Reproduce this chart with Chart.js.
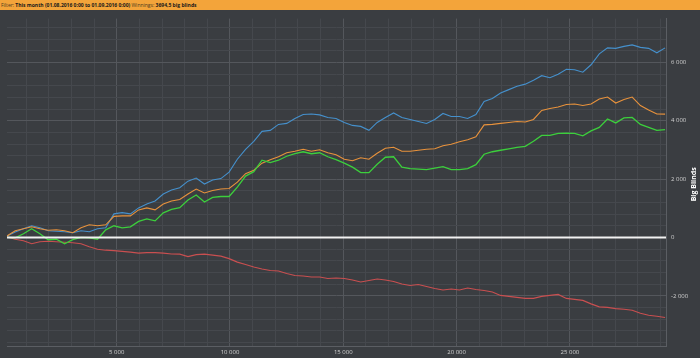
<!DOCTYPE html>
<html><head><meta charset="utf-8">
<script src="https://cdn.jsdelivr.net/npm/chart.js@4/dist/chart.umd.min.js"></script>
<style>
html,body{margin:0;padding:0;background:#3a3d41;width:700px;height:358px;overflow:hidden}
#hdr{height:10px;background:#f3a43a;font:5px "Open Sans",sans-serif;line-height:10px;color:#4a3a20;padding-left:1px;white-space:nowrap}
#hdr b{color:#1a1a1a}
#wrap{position:relative;width:700px;height:348px}
</style></head><body>
<div id="hdr">Filter: <b>This month (01.08.2016 0:00 to 01.09.2016 0:00)</b> Winnings: <b>3694,5 big blinds</b></div>
<div id="wrap"><canvas id="c"></canvas></div>
<script>
// hands axis: first sample hand and sample spacing
const handStart = 160, handStep = 363;
const xMin = 160, xMax = 29240, yMin = -3720, yMax = 7500;
const xMajor = 5000, xMinor = 1000, yMajor = 2000, yMinor = 400;
const yTitle = 'Big Blinds';

const blueVals = [50,190,296,400,330,228,210,194,160,230,195,296,330,808,850,808,1012,1148,1250,1490,1625,1703,1930,2034,1830,1966,2017,2240,2680,3020,3295,3635,3670,3874,3908,4078,4215,4230,4200,4112,4078,3942,3840,3806,3670,3942,4112,4265,4112,4044,3976,3908,4044,4250,4146,4146,4078,4215,4657,4760,4947,5066,5185,5254,5390,5543,5475,5594,5765,5748,5662,5918,6293,6497,6480,6548,6600,6514,6480,6327,6497];
const orangeVals = [50,228,296,365,296,245,262,228,160,330,433,400,433,722,740,740,944,1012,944,1148,1250,1300,1490,1660,1523,1608,1660,1676,1898,2187,2306,2545,2664,2766,2903,2954,3022,2954,3005,2903,2835,2681,2630,2732,2681,2886,3056,3090,2954,2954,2988,3022,3039,3141,3192,3277,3346,3448,3857,3874,3908,3942,3976,3959,4044,4351,4419,4470,4555,4572,4521,4572,4743,4811,4606,4726,4811,4521,4368,4231,4225];
const greenVals = [0,-10,126,300,126,-78,-61,-215,-78,0,-10,-61,262,400,330,365,552,637,569,842,960,1022,1284,1455,1216,1370,1404,1404,1727,2102,2255,2647,2562,2647,2783,2869,2937,2869,2903,2766,2664,2545,2409,2221,2221,2511,2749,2766,2409,2358,2341,2324,2375,2426,2324,2324,2358,2494,2852,2937,2988,3039,3090,3124,3295,3499,3499,3567,3577,3567,3482,3652,3772,4061,3925,4095,4112,3874,3772,3669,3694.5];
const redVals = [20,-61,-112,-215,-147,-129,-147,-164,-181,-215,-317,-402,-436,-453,-477,-504,-538,-521,-521,-538,-566,-572,-658,-589,-572,-606,-640,-726,-845,-930,-1015,-1083,-1135,-1152,-1237,-1305,-1322,-1356,-1356,-1407,-1390,-1407,-1458,-1526,-1475,-1424,-1458,-1509,-1595,-1646,-1612,-1680,-1748,-1799,-1765,-1799,-1731,-1782,-1816,-1867,-1986,-2020,-2054,-2088,-2088,-2020,-1986,-1952,-2088,-2122,-2157,-2276,-2378,-2395,-2439,-2463,-2497,-2600,-2668,-2702,-2746];

const hands = blueVals.map((_, i) => handStart + i * handStep);
const pts = vals => vals.map((v, i) => ({x: hands[i], y: v}));
const fmt = v => {
  const s = Math.abs(v).toString().replace(/\B(?=(\d{3})+(?!\d))/g, ' ');
  return (v < 0 ? '-' : '') + s;
};
const tickFont = {family: '"Open Sans", sans-serif', size: 6};

const titlePlugin = {
  id: 'ytitle',
  afterDraw(chart) {
    const {ctx, chartArea} = chart;
    ctx.save();
    ctx.translate(694, (chartArea.top + chartArea.bottom) / 2 + 2);
    ctx.rotate(-Math.PI / 2);
    ctx.font = 'bold 7px "Open Sans", sans-serif';
    ctx.fillStyle = '#ffffff';
    ctx.textAlign = 'center';
    ctx.textBaseline = 'middle';
    ctx.fillText(yTitle, 0, 0);
    ctx.restore();
  }
};

new Chart(document.getElementById('c'), {
  type: 'line',
  data: {
    datasets: [
      {label: 'zero', data: [{x: xMin, y: 0}, {x: xMax, y: 0}], borderColor: '#f2f2f2', borderWidth: 2, order: -1},
      {label: 'Net won', data: pts(greenVals), borderColor: '#3ccf3c', borderWidth: 1.3, order: 0},
      {label: 'All-in EV', data: pts(orangeVals), borderColor: '#e8923c', borderWidth: 1.1, order: 1},
      {label: 'Showdown', data: pts(blueVals), borderColor: '#4590cc', borderWidth: 1.1, order: 2},
      {label: 'Non-showdown', data: pts(redVals), borderColor: '#c94f50', borderWidth: 1.1, order: 3}
    ]
  },
  options: {
    responsive: true, maintainAspectRatio: false, animation: false, devicePixelRatio: 1,
    layout: {padding: {left: 7, top: 6, right: 0, bottom: 0}},
    elements: {point: {radius: 0}, line: {tension: 0, fill: false}},
    plugins: {legend: {display: false}, tooltip: {enabled: false}},
    scales: {
      x: {
        type: 'linear', min: xMin, max: xMax, position: 'bottom',
        afterBuildTicks: s => { const t = []; for (let v = xMinor; v < xMax; v += xMinor) t.push({value: v}); s.ticks = t; },
        afterFit: s => { s.height = 12; },
        grid: {drawTicks: false, color: c => (c.tick && c.tick.value % xMajor === 0) ? '#54575c' : '#45484d', lineWidth: 1},
        border: {color: '#5b5e63', width: 1},
        ticks: {font: tickFont, color: '#d0d0d0', padding: 3, maxRotation: 0, autoSkip: false,
          callback: v => v % xMajor === 0 ? fmt(v) : ''}
      },
      y: {
        type: 'linear', min: yMin, max: yMax, position: 'right',
        afterBuildTicks: s => { const t = []; for (let v = -3600; v <= 7200; v += yMinor) t.push({value: v}); s.ticks = t; },
        afterFit: s => { s.width = 34; },
        grid: {drawTicks: false, color: c => (c.tick && c.tick.value % yMajor === 0) ? '#54575c' : '#45484d', lineWidth: 1},
        border: {color: '#5b5e63', width: 1},
        ticks: {font: tickFont, color: '#d0d0d0', padding: 5, autoSkip: false,
          callback: v => v % yMajor === 0 ? fmt(v) : ''}
      }
    }
  },
  plugins: [titlePlugin]
});
</script>
</body></html>
